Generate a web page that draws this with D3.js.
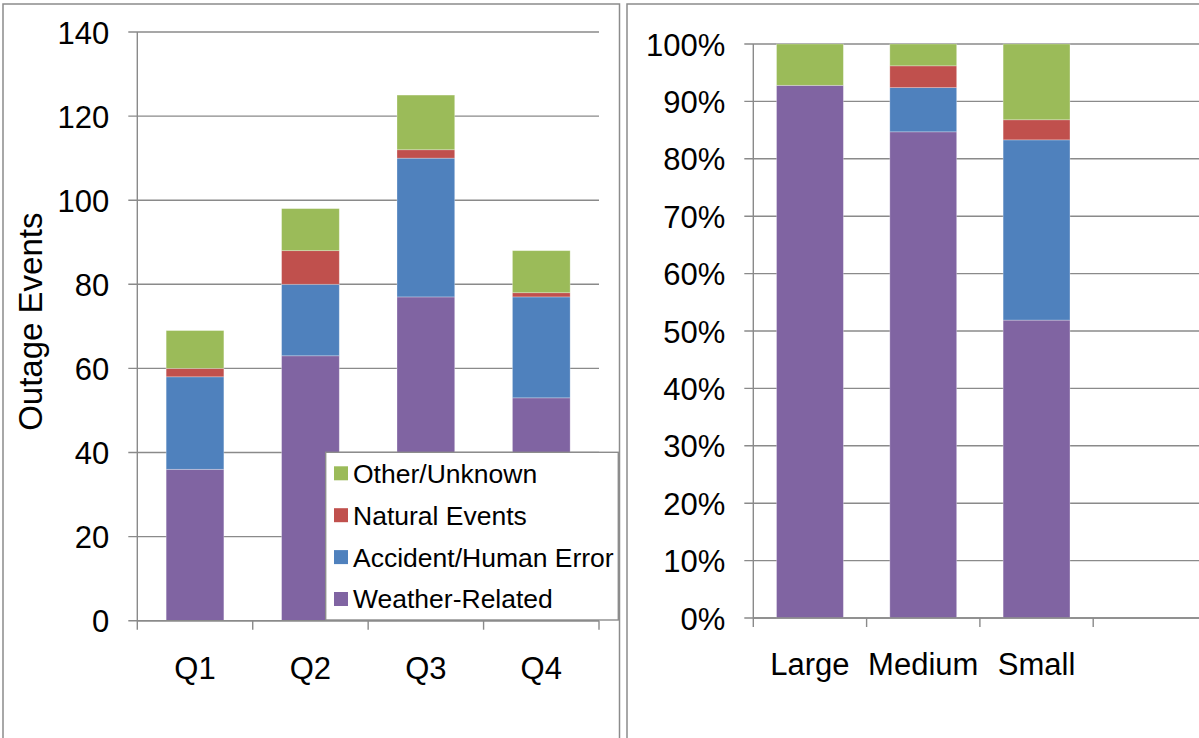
<!DOCTYPE html>
<html><head><meta charset="utf-8">
<script src="https://cdn.jsdelivr.net/npm/d3@7"></script>
<style>
html,body{margin:0;padding:0;background:#fff;}
svg{display:block;font-family:"Liberation Sans",Arial,sans-serif;}
</style></head><body>
<svg id="c" width="1199" height="738"></svg>
<script>
// ---- data ----
const quarters = ["Q1", "Q2", "Q3", "Q4"];
const seriesNames = ["Weather-Related", "Accident/Human Error", "Natural Events", "Other/Unknown"];
const seriesColors = ["#8064A2", "#4F81BD", "#C0504D", "#9BBB59"];
const weatherQ = [36, 63, 77, 53];
const accidentQ = [22, 17, 33, 24];
const naturalQ = [2, 8, 2, 1];
const otherQ = [9, 10, 13, 10];
const leftTicks = [0, 20, 40, 60, 80, 100, 120, 140];

const sizes = ["Large", "Medium", "Small", ""];
const weatherPct = [92.8, 84.7, 51.9];
const accidentPct = [0, 7.7, 31.4];
const naturalPct = [0, 3.8, 3.5];
const otherPct = [7.2, 3.8, 13.2];
const rightTicks = [0, 10, 20, 30, 40, 50, 60, 70, 80, 90, 100];

const svg = d3.select("#c");
const GRID = "#8a8a8a";

// panel frames
svg.append("rect").attr("x", 3).attr("y", 4).attr("width", 616.5).attr("height", 800)
  .attr("fill", "#fff").attr("stroke", "#8c8c8c").attr("stroke-width", 1.5);
svg.append("rect").attr("x", 627).attr("y", 4).attr("width", 700).attr("height", 800)
  .attr("fill", "#fff").attr("stroke", "#8c8c8c").attr("stroke-width", 1.5);

function drawChart(opt) {
  const g = svg.append("g");
  const x = d3.scaleBand().domain(opt.cats).range([opt.x0, opt.x1])
    .paddingInner(opt.pad).paddingOuter(opt.pad / 2);
  const y = d3.scaleLinear().domain([0, opt.max]).range([opt.yBot, opt.yTop]);

  // gridlines (with outward tick)
  g.selectAll("line.grid").data(opt.ticks).join("line")
    .attr("x1", opt.x0 - 9).attr("x2", opt.x1)
    .attr("y1", d => y(d)).attr("y2", d => y(d))
    .attr("stroke", GRID).attr("stroke-width", 1.4);

  // y axis labels
  const ax = d3.axisLeft(y).tickValues(opt.ticks).tickSize(0).tickPadding(0)
    .tickFormat(opt.fmt);
  const ag = g.append("g").attr("transform", `translate(${opt.x0 - 28},0)`).call(ax);
  ag.select(".domain").remove();
  ag.selectAll("text").attr("x", 0).attr("dy", "0.358em")
    .attr("font-size", 31).attr("font-family", "Liberation Sans, Arial, sans-serif")
    .attr("fill", "#000");

  // stacked bars
  const stack = d3.stack().keys(d3.range(opt.series.length));
  const rows = opt.series[0].map((_, i) => {
    const r = { cat: opt.cats[i] };
    opt.series.forEach((s, k) => r[k] = s[i]);
    return r;
  });
  const layers = stack(rows);
  layers.forEach((layer, k) => {
    g.selectAll(null).data(layer).join("rect")
      .attr("x", d => x(d.data.cat))
      .attr("width", x.bandwidth())
      .attr("y", d => y(d[1]))
      .attr("height", d => y(d[0]) - y(d[1]))
      .attr("fill", seriesColors[k])
      .attr("stroke", "#fff").attr("stroke-opacity", 0.35).attr("stroke-width", 0.8);
  });

  // axis lines
  g.append("line").attr("x1", opt.x0).attr("x2", opt.x0)
    .attr("y1", opt.yTop).attr("y2", opt.yBot + 9)
    .attr("stroke", GRID).attr("stroke-width", 1.4);
  g.append("line").attr("x1", opt.x0).attr("x2", opt.x1)
    .attr("y1", opt.yBot).attr("y2", opt.yBot)
    .attr("stroke", GRID).attr("stroke-width", 1.4);
  const bounds = opt.cats.map((c, i) => opt.x0 + (i + 1) * x.step());
  g.selectAll(null).data(bounds).join("line")
    .attr("x1", d => d).attr("x2", d => d)
    .attr("y1", opt.yBot).attr("y2", opt.yBot + 9)
    .attr("stroke", GRID).attr("stroke-width", 1.4);

  // category labels
  g.selectAll(null).data(opt.cats.filter(c => c !== "")).join("text")
    .attr("x", d => x(d) + x.bandwidth() / 2)
    .attr("y", opt.labelY)
    .attr("text-anchor", "middle")
    .attr("font-size", 31).attr("fill", "#000")
    .text(d => d);
  return { x, y, g };
}

// ---- left chart ----
const L = drawChart({
  cats: quarters, series: [weatherQ, accidentQ, naturalQ, otherQ],
  x0: 137.3, x1: 599, yTop: 32, yBot: 620.7, pad: 0.5, max: 140,
  ticks: leftTicks, fmt: d => d, labelY: 679
});

// y-axis title
svg.append("text")
  .attr("transform", "translate(41.5,321.7) rotate(-90)")
  .attr("text-anchor", "middle")
  .attr("font-size", 33).attr("fill", "#000")
  .text("Outage Events");

// legend
const leg = svg.append("g");
leg.append("rect").attr("x", 325.7).attr("y", 452.3).attr("width", 292.6).attr("height", 167.7)
  .attr("fill", "#fff").attr("stroke", "#8c8c8c").attr("stroke-width", 1.4);
const legOrder = [3, 2, 1, 0];
const legY = d3.scalePoint().domain(legOrder).range([473.3, 599]);
legOrder.forEach(k => {
  leg.append("rect").attr("x", 334).attr("y", legY(k) - 7).attr("width", 14).attr("height", 14)
    .attr("fill", seriesColors[k]);
  leg.append("text").attr("x", 353).attr("y", legY(k)).attr("dy", "0.358em")
    .attr("font-size", 26.5).attr("fill", "#000").text(seriesNames[k]);
});

// ---- right chart ----
drawChart({
  cats: sizes, series: [weatherPct, accidentPct, naturalPct, otherPct].map(s => s),
  x0: 753.3, x1: 753.3 + 4 * 113.3, yTop: 44, yBot: 618, pad: 0.41, max: 100,
  ticks: rightTicks, fmt: d => d + "%", labelY: 675
});
</script>
</body></html>
